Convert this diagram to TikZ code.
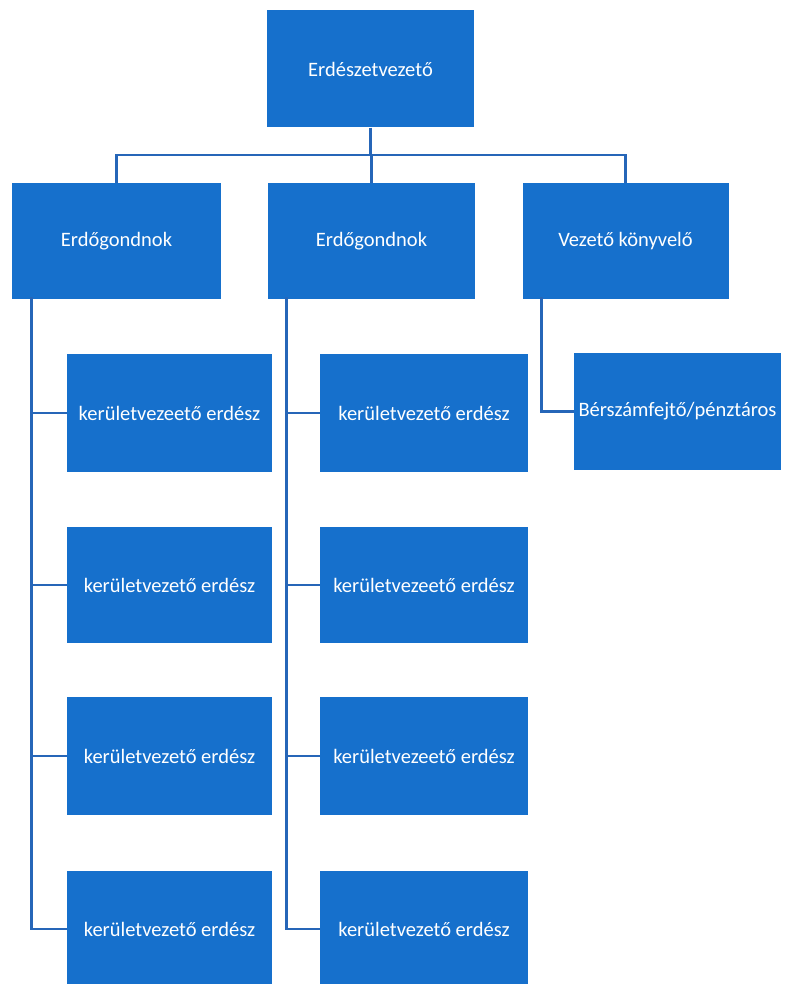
\documentclass[tikz,border=0pt]{standalone}
\usepackage{fontspec}
\setmainfont{Carlito}
\definecolor{boxblue}{RGB}{22,112,204}
\definecolor{lineblue}{RGB}{38,102,184}
\begin{document}
\begin{tikzpicture}[x=1pt,y=-1pt,
  box/.style={fill=boxblue,draw=none,inner sep=0pt,text=white,font=\fontsize{20.5}{24}\selectfont,minimum width=207pt,minimum height=117pt},
  conn/.style={draw=lineblue,line width=2.8pt}]
\useasboundingbox (0,0) rectangle (784,984);
\node[box] (top) at (370.5,69) {Erdészetvezető};
\node[box,minimum width=209pt,minimum height=116pt] (a) at (116.5,241) {Erdőgondnok};
\node[box,minimum height=116pt] (b) at (371.5,241) {Erdőgondnok};
\node[box,minimum width=206pt,minimum height=116pt] (c) at (625.5,241) {Vezető könyvelő};
% left column
\node[box,minimum width=205pt,minimum height=118pt] (l1) at (169.5,413) {kerületvezeető erdész};
\node[box,minimum width=205pt,minimum height=116pt] (l2) at (169.5,585) {kerületvezető erdész};
\node[box,minimum width=205pt,minimum height=118pt] (l3) at (169.5,756) {kerületvezető erdész};
\node[box,minimum width=205pt,minimum height=116pt] (l4) at (169.5,929) {kerületvezető erdész};
% middle column
\node[box,minimum width=208pt,minimum height=118pt] (m1) at (424,413) {kerületvezető erdész};
\node[box,minimum width=208pt,minimum height=116pt] (m2) at (424,585) {kerületvezeető erdész};
\node[box,minimum width=208pt,minimum height=118pt] (m3) at (424,756) {kerületvezeető erdész};
\node[box,minimum width=208pt,minimum height=116pt] (m4) at (424,929) {kerületvezető erdész};
% right
\node[box,minimum width=207pt,minimum height=117pt] (r1) at (677.5,411.5) {Bérszámfejtő/pénztáros};
% connectors
\coordinate (bus) at (370.5,155);
\draw[conn] (top.south) -- (bus);
\draw[conn] (bus) -| (a.north);
\draw[conn] (bus) -| (b.north);
\draw[conn] (bus) -| (c.north);
\foreach \n in {l1,l2,l3,l4}{
  \draw[conn] ([xshift=20pt,yshift=2pt]a.south west) |- (\n.west);
}
\foreach \n in {m1,m2,m3,m4}{
  \draw[conn] ([xshift=19pt,yshift=2pt]b.south west) |- (\n.west);
}
\draw[conn] ([xshift=19pt,yshift=2pt]c.south west) |- (r1.west);
\end{tikzpicture}
\end{document}
